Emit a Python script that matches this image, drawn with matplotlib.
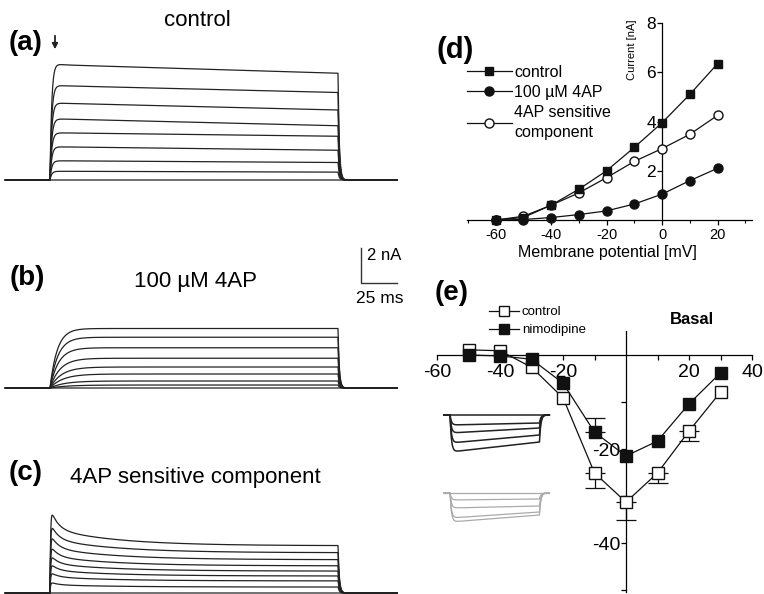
# K+ and Ca2+ current figure: raw traces (a-c), K+ I-V (d), Ca2+ I-V (e)

import numpy as np
import matplotlib
matplotlib.use('Agg')
import matplotlib.pyplot as plt
from matplotlib.lines import Line2D

W, H = 764, 594
plt.rcParams['font.family'] = ['Liberation Sans', 'DejaVu Sans']
plt.rcParams['axes.unicode_minus'] = False

# (d) K+ current-voltage relation [mV], [nA]
iv_voltage = [-60, -50, -40, -30, -20, -10, 0, 10, 20]
iv_control = [0.0, 0.1, 0.6, 1.25, 2.0, 2.95, 3.95, 5.1, 6.35]
iv_4ap = [0.0, 0.02, 0.1, 0.22, 0.37, 0.65, 1.05, 1.6, 2.1]
iv_sensitive = [0.0, 0.15, 0.6, 1.1, 1.72, 2.38, 2.9, 3.48, 4.25]

# (e) Ca2+ current-voltage relation, basal
ca_voltage = [-50, -40, -30, -20, -10, 0, 10, 20, 30]
ca_control = [1.1, 0.9, -2.6, -9.1, -25.1, -31.3, -25.1, -16.2, -7.9]
ca_control_err = [0.0, 0.0, 0.0, 0.0, 3.3, 3.7, 2.2, 2.0, 0.0]
ca_nimodipine = [0.0, -0.2, -0.9, -6.0, -16.4, -21.5, -18.3, -10.4, -3.8]
ca_nimodipine_err = [0.0, 0.0, 0.0, 0.0, 3.0, 0.0, 0.0, 0.0, 0.0]

# (a) control traces [nA]: level just after onset, at end of the 200 ms step
ctrl_early = [6.6, 5.4, 4.4, 3.5, 2.7, 1.9, 1.1, 0.5, 0.0]
ctrl_late = [6.1, 5.0, 4.0, 3.1, 2.5, 1.7, 1.0, 0.45, 0.0]
ctrl_spike = [0.3, 0.1, 0.05, 0.0, 0.0, 0.0, 0.0, 0.0, 0.0]
# (b) 100 uM 4AP traces: plateau [nA] and activation time constant [ms]
ap_late = [3.4, 2.9, 2.3, 1.7, 1.2, 0.8, 0.4, 0.17, 0.0]
ap_tau = [5.0, 5.5, 6.0, 7.0, 8.0, 9.0, 10.0, 12.0, 1.0]
# (c) 4AP sensitive component: peak and end level [nA]
sens_peak = [4.9, 4.05, 3.4, 2.75, 2.2, 1.7, 1.2, 0.63, 0.0]
sens_late = [2.7, 2.3, 1.9, 1.55, 1.25, 0.97, 0.69, 0.34, 0.0]

# (e) inset Ca2+ traces [a.u.]: start and end of step
inset_black_early = [0.0, -1.0, -1.8, -2.8, -3.7]
inset_black_late = [0.0, -0.8, -1.3, -2.0, -2.7]
inset_gray_early = [0.0, -0.7, -1.5, -2.5, -2.9]
inset_gray_late = [0.0, -0.6, -1.3, -1.9, -2.2]

STEP = 200.0  # ms
PX_MS = 1.44  # pixels per ms in traces
PX_NA = 17.5  # pixels per nA in traces

fig = plt.figure(figsize=(W / 100, H / 100), dpi=100)


def px_axes(x0, y0, x1, y1):
    return fig.add_axes([x0 / W, 1 - y1 / H, (x1 - x0) / W, (y1 - y0) / H])


def px_text(x, y, s, **kw):
    kw.setdefault('ha', 'center')
    kw.setdefault('va', 'center')
    fig.text(x / W, 1 - y / H, s, **kw)


def trace_axes(top, bottom, base, onset=50):
    ax = px_axes(0, top, 420, bottom)
    ax.set_xlim(-onset / PX_MS, (420 - onset) / PX_MS)
    ax.set_ylim((base - bottom) / PX_NA, (base - top) / PX_NA)
    ax.axis('off')
    return ax


t = np.linspace(-31, 241, 4000)
on = (t >= 0) & (t <= STEP)
post = t > STEP
ts = np.clip(t, 0, STEP)


def finish(during, tail_tau=0.9):
    y = np.where(on, during, 0.0)
    end_val = during[np.searchsorted(t, STEP) - 1]
    y = np.where(post, end_val * np.exp(-(t - STEP) / tail_tau), y)
    return y


# (a) control
ax_a = trace_axes(45, 195, 180)
for e, l, s in zip(ctrl_early, ctrl_late, ctrl_spike):
    cur = (1 - np.exp(-ts / 1.2)) * (e + (l - e) * ts / STEP + s * np.exp(-ts / 3))
    ax_a.plot(t, finish(cur), color='#222222', lw=0.9)

# (b) 4AP
ax_b = trace_axes(240, 400, 388)
for l, tau in zip(ap_late, ap_tau):
    cur = l * (1 - np.exp(-ts / tau))
    ax_b.plot(t, finish(cur), color='#222222', lw=0.9)

# scale bar 2 nA / 25 ms
sb_t, sb_y = (361 - 50) / PX_MS, (388 - 283) / PX_NA
ax_b.plot([sb_t, sb_t, sb_t + 25], [sb_y + 2, sb_y, sb_y], color='#333333', lw=1, clip_on=False)
ax_b.text(sb_t + 4, sb_y + 1.6, '2 nA', fontsize=12, ha='left', va='center')
ax_b.text(sb_t + 13, sb_y - 0.9, '25 ms', fontsize=12.5, ha='center', va='center')

# (c) 4AP sensitive component
ax_c = trace_axes(495, 594, 593)
for p, l in zip(sens_peak, sens_late):
    cur = (1 - np.exp(-ts / 0.4)) * (l + (p - l) * (0.55 * np.exp(-ts / 5) + 0.45 * np.exp(-ts / 45)))
    ax_c.plot(t, finish(cur), color='#222222', lw=0.9, clip_on=False)

px_text(26, 43, '(a)', fontsize=20, fontweight='bold')
px_text(27, 278, '(b)', fontsize=20, fontweight='bold')
px_text(26, 473, '(c)', fontsize=20, fontweight='bold')
px_text(197, 20, 'control', fontsize=16)
px_text(196, 281, '100 \u00b5M 4AP', fontsize=16)
px_text(195, 477, '4AP sensitive component', fontsize=16)
fig.add_artist(matplotlib.patches.FancyArrowPatch((55 / W, 1 - 33 / H), (55 / W, 1 - 52 / H),
               transform=fig.transFigure, arrowstyle='-|>', mutation_scale=8, lw=1.3, color='#222222'))

# (d) K+ I-V
ax_d = px_axes(467, 23, 752, 220)
ax_d.set_xlim(-70.3, 32.4)
ax_d.set_ylim(0, 8)
for side in ('top', 'right'):
    ax_d.spines[side].set_visible(False)
ax_d.spines['left'].set_position(('data', 0))
ax_d.spines['bottom'].set_position(('data', 0))
for sp in ax_d.spines.values():
    sp.set_linewidth(0.9)
ax_d.plot(iv_voltage, iv_control, '-s', color='#111111', mfc='#111111', ms=6, lw=0.9,
          clip_on=False, label='control', zorder=4)
ax_d.plot(iv_voltage, iv_4ap, '-o', color='#111111', mfc='#111111', ms=6.5, lw=0.9,
          clip_on=False, label='100 \u00b5M 4AP', zorder=4)
ax_d.plot(iv_voltage, iv_sensitive, '-o', color='#111111', mfc='white', ms=6.5, lw=0.9,
          clip_on=False, label='4AP sensitive\ncomponent', zorder=3)
ax_d.set_xticks([-60, -40, -20, 0, 20])
ax_d.set_xticks([-70, -50, -30, -10, 10, 30], minor=True)
ax_d.set_yticks([2, 4, 6, 8])
ax_d.tick_params(axis='x', labelsize=10.5, direction='out', length=3.5, width=0.9, pad=2.5)
ax_d.tick_params(axis='x', which='minor', direction='out', length=2, width=0.8)
ax_d.tick_params(axis='y', labelsize=12.5, direction='out', length=3.5, width=0.9, pad=1)
ax_d.patch.set_visible(False)
leg_d = ax_d.legend(loc='upper left', bbox_to_anchor=(467 / W, 1 - 65 / H),
                    bbox_transform=fig.transFigure, frameon=False, fontsize=11.5,
                    handlelength=2.8, handletextpad=0.15, labelspacing=0.3,
                    borderpad=0, borderaxespad=0)
leg_d.get_texts()[2].set_linespacing(1.45)
px_text(632, 50, 'Current [nA]', fontsize=8, rotation=90)
px_text(607, 253, 'Membrane potential [mV]', fontsize=11.5)
px_text(455, 50, '(d)', fontsize=21, fontweight='bold')

# (e) Ca2+ I-V
ax_e = px_axes(437, 331, 752, 592)
ax_e.set_xlim(-60, 40)
ax_e.set_ylim((355 - 592) / 4.7, (355 - 331) / 4.7)
for side in ('top', 'right'):
    ax_e.spines[side].set_visible(False)
ax_e.spines['left'].set_position(('data', 0))
ax_e.spines['bottom'].set_position(('data', 0))
for sp in ax_e.spines.values():
    sp.set_linewidth(0.9)
ax_e.patch.set_visible(False)


def iv_series(y, err, below, face, z):
    v = np.array(ca_voltage)
    y = np.array(y)
    err = np.array(err)
    has = err > 0
    zeros = np.zeros(has.sum())
    yerr = [err[has], zeros] if below else [zeros, err[has]]
    ax_e.errorbar(v[has], y[has], yerr=yerr, fmt='none', ecolor='#111111',
                  elinewidth=0.9, capsize=7, capthick=0.9, clip_on=False, zorder=z - 1)
    ax_e.plot(v, y, '-s', color='#111111', mfc=face, ms=8.5, lw=0.9, clip_on=False, zorder=z)


iv_series(ca_control, ca_control_err, True, 'white', 3)
iv_series(ca_nimodipine, ca_nimodipine_err, False, '#111111', 5)
ax_e.set_xticks([-60, -40, -20, 20, 40])
ax_e.set_xticks([-50, -30, -10, 10, 30], minor=True)
ax_e.set_yticks([-40, -20])
ax_e.set_yticks([-50, -30, -10], minor=True)
ax_e.tick_params(axis='x', which='both', labelsize=14, direction='out', length=3.5, width=0.9, pad=3)
ax_e.tick_params(axis='y', which='both', labelsize=14, direction='out', length=3.5, width=0.9, pad=0.5)
leg_handles = [Line2D([], [], color='#111111', marker='s', mfc='white', ms=7.5, lw=0.9),
               Line2D([], [], color='#111111', marker='s', mfc='#111111', ms=7.5, lw=0.9)]
ax_e.legend(leg_handles, ['control', 'nimodipine'], loc='upper left',
            bbox_to_anchor=(489 / W, 1 - 306 / H), bbox_transform=fig.transFigure,
            frameon=False, fontsize=9.5, handlelength=2.3, handletextpad=0.2,
            labelspacing=0.45, borderpad=0, borderaxespad=0)
px_text(692, 320, 'Basal', fontsize=12, fontweight='bold')
px_text(452, 293, '(e)', fontsize=20, fontweight='bold')

# (e) insets: example Ca2+ current traces
ti = np.linspace(-6.8, 111, 800)
ti_on = (ti >= 0) & (ti <= 100)
ti_s = np.clip(ti, 0, 100)


def inset(y0, y1, base, early, late, color, lw):
    ax = px_axes(442, y0, 552, y1)
    ax.set_xlim(-9, 114)
    ax.set_ylim((base - y1) / 10, (base - y0) / 10)
    ax.axis('off')
    for e, l in zip(early, late):
        cur = (1 - np.exp(-ti_s / 1.5)) * (e + (l - e) * ti_s / 100)
        y = np.where(ti_on, cur, 0.0)
        y = np.where(ti > 100, l * np.exp(-(ti - 100) / 1.5), y)
        ax.plot(ti, y, color=color, lw=lw)


inset(405, 462, 415, inset_black_early, inset_black_late, '#222222', 1.1)
inset(483, 532, 493, inset_gray_early, inset_gray_late, '#aaaaaa', 0.9)

fig.savefig('out.png', dpi=100)
